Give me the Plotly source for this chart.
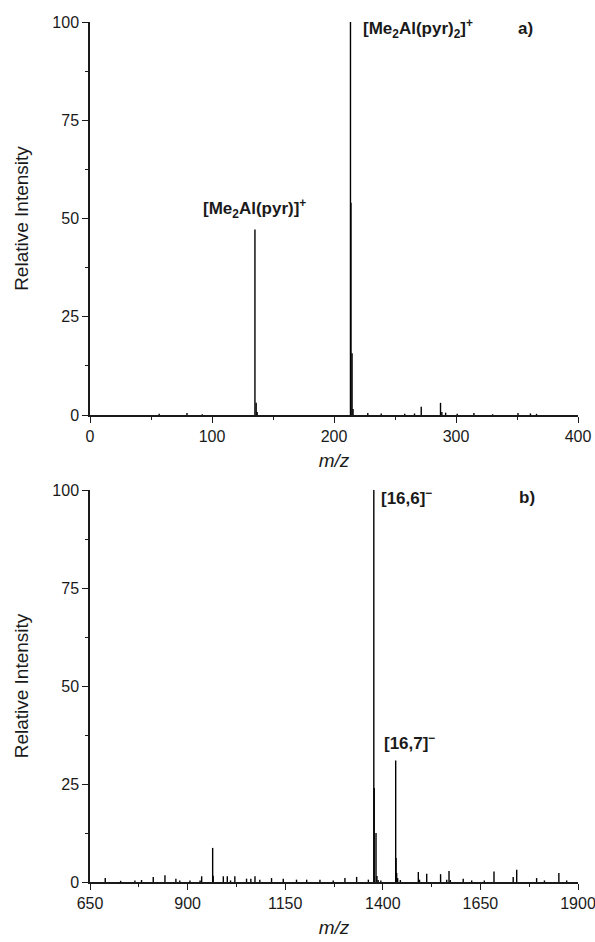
import plotly.graph_objects as go

# ---------------- data ----------------
# panel a) positive-ion spectrum, m/z 0-400
a_mz = [56.7, 79.5, 92.0, 135.2, 136.2, 137.0, 213.5, 213.9, 214.8, 215.6,
        227.7, 238.7, 258.0, 266.0, 271.5, 287.3, 288.4, 291.5, 301.0,
        314.7, 330.0, 350.8, 361.0, 366.0]
a_int = [0.3, 0.5, 0.2, 47.2, 3.1, 0.8, 100.0, 54.0, 15.7, 1.5,
         0.5, 0.4, 0.3, 0.4, 2.1, 3.1, 0.8, 0.6, 0.3,
         0.5, 0.2, 0.5, 0.4, 0.3]

# panel b) negative-ion spectrum, m/z 650-1900
b_mz = [689, 728.5, 765, 782, 812, 842, 870, 880, 906, 932, 936, 964.2, 965.5,
        991.5, 1001.7, 1010, 1021, 1051, 1062, 1072.6, 1085, 1115, 1145, 1179,
        1205, 1239, 1273, 1303, 1333, 1363, 1377, 1378, 1382.6, 1385, 1388,
        1395, 1433, 1434, 1435.5, 1438, 1445, 1491, 1494, 1512.5, 1548, 1563.7,
        1569.6, 1573, 1606, 1627.7, 1660, 1684.8, 1734, 1743, 1794, 1814,
        1851, 1871]
b_int = [1.0, 0.3, 0.4, 0.5, 1.3, 1.7, 0.85, 0.4, 0.4, 0.4, 1.45, 8.7, 1.6,
         1.45, 1.45, 0.4, 1.45, 0.85, 0.85, 1.45, 0.6, 1.0, 0.8, 0.6,
         0.6, 0.6, 0.4, 1.0, 1.3, 0.6, 100.0, 24.0, 12.5, 1.5, 0.5,
         0.4, 31.0, 6.1, 2.3, 1.0, 0.5, 2.55, 0.6, 2.1, 2.0, 0.6,
         2.8, 0.5, 0.85, 0.4, 0.4, 2.7, 1.3, 3.1, 1.0, 0.4,
         2.3, 0.4]

a_xticks = [0, 100, 200, 300, 400]
b_xticks = [650, 900, 1150, 1400, 1650, 1900]
y_ticks = [0, 25, 50, 75, 100]

# labels: (text, m/z, intensity, anchor)
a_labels = [("<b>[Me<sub>2</sub>Al(pyr)]<sup>+</sup></b>", 135.2, 52.6, "center"),
            ("<b>[Me<sub>2</sub>Al(pyr)<sub>2</sub>]<sup>+</sup></b>", 222.0, 98.4, "left"),
            ("<b>a)</b>", 357.0, 98.4, "center")]
b_labels = [("<b>[16,6]<sup>\u2212</sup></b>", 1391.0, 98.2, "left"),
            ("<b>[16,7]<sup>\u2212</sup></b>", 1469.0, 35.6, "center"),
            ("<b>b)</b>", 1769.0, 98.2, "center")]


def sticks(mz, inten):
    xs, ys = [], []
    for m, h in zip(mz, inten):
        xs += [m, m, None]
        ys += [0, h, None]
    return xs, ys


FONT = "Liberation Sans, Arial, sans-serif"
INK = "#1a1a1a"

fig = go.Figure()
ax, ay = sticks(a_mz, a_int)
fig.add_trace(go.Scatter(x=ax, y=ay, mode="lines", line=dict(color="black", width=1.4),
                         xaxis="x", yaxis="y", showlegend=False, hoverinfo="skip"))
bx, by = sticks(b_mz, b_int)
fig.add_trace(go.Scatter(x=bx, y=by, mode="lines", line=dict(color="black", width=1.4),
                         xaxis="x2", yaxis="y2", showlegend=False, hoverinfo="skip"))

common_axis = dict(showline=True, linecolor=INK, linewidth=1.5, ticks="outside",
                   ticklen=6, tickwidth=1.3, tickcolor=INK, showgrid=False,
                   zeroline=False, mirror=False, automargin=False,
                   ticklabeloverflow="allow",
                   tickfont=dict(family=FONT, size=16, color=INK))

ytitle = dict(text="Relative Intensity", font=dict(family=FONT, size=19, color=INK), standoff=19)
xtitle = dict(text="<i>m/z</i>", font=dict(family=FONT, size=19, color=INK), standoff=10)

fig.update_layout(
    width=595, height=942,
    paper_bgcolor="white", plot_bgcolor="white",
    margin=dict(l=90, r=17, t=22, b=60, autoexpand=False),
    xaxis=dict(domain=[0, 1], anchor="y", range=[0, 400], tickvals=a_xticks,
               minor=dict(dtick=50, tick0=0, ticks="outside", ticklen=3, tickcolor=INK, tickwidth=1.2),
               title=xtitle, **common_axis),
    yaxis=dict(domain=[0.543, 1.0], anchor="x", range=[0, 100], tickvals=y_ticks,
               minor=dict(dtick=12.5, tick0=0, ticks="outside", ticklen=3, tickcolor=INK, tickwidth=1.2),
               title=ytitle, **common_axis),
    xaxis2=dict(domain=[0, 1], anchor="y2", range=[650, 1900], tickvals=b_xticks,
                minor=dict(dtick=125, tick0=650, ticks="outside", ticklen=3, tickcolor=INK, tickwidth=1.2),
                title=xtitle, **common_axis),
    yaxis2=dict(domain=[0, 0.4558], anchor="x2", range=[0, 100], tickvals=y_ticks,
                minor=dict(dtick=12.5, tick0=0, ticks="outside", ticklen=3, tickcolor=INK, tickwidth=1.2),
                title=ytitle, **common_axis),
)

for text, x, y, anc in a_labels:
    fig.add_annotation(text=text, x=x, y=y, xref="x", yref="y", showarrow=False,
                       xanchor=anc, yanchor="middle",
                       font=dict(family=FONT, size=17, color=INK))
for text, x, y, anc in b_labels:
    fig.add_annotation(text=text, x=x, y=y, xref="x2", yref="y2", showarrow=False,
                       xanchor=anc, yanchor="middle",
                       font=dict(family=FONT, size=17, color=INK))

# remove the default 8px page margin so the figure fills the window exactly
fig.write_html("out.html",
               config={"displayModeBar": False},
               post_script="document.body.style.margin='0px';document.body.style.overflow='hidden';")
